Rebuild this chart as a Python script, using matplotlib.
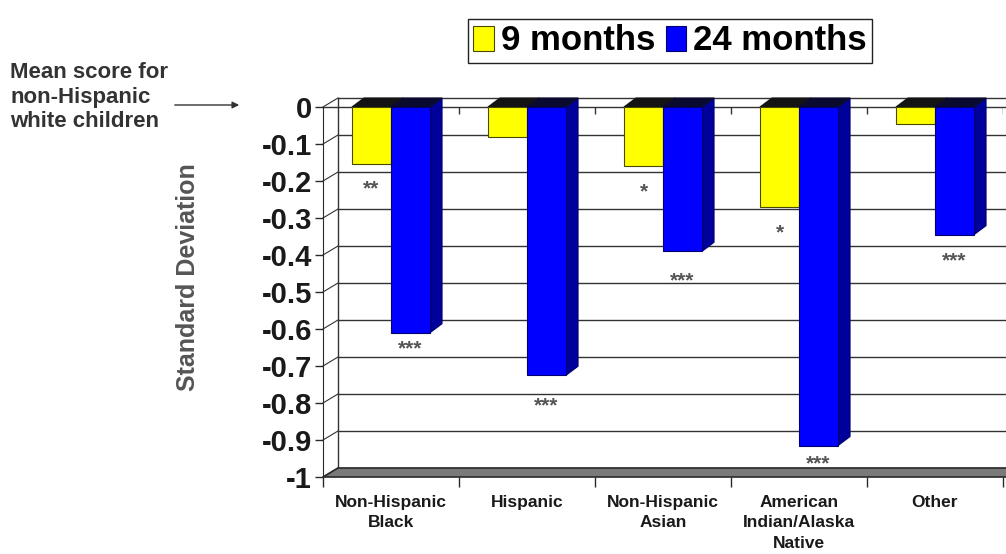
import numpy as np
import matplotlib
matplotlib.use('Agg')
import matplotlib.pyplot as plt
from matplotlib.patches import Polygon

plt.rcParams['font.family'] = ['Liberation Sans', 'DejaVu Sans']
plt.rcParams['font.weight'] = 'bold'

# standardized gap vs. non-Hispanic white children
groups = ['Non-Hispanic\nBlack', 'Hispanic', 'Non-Hispanic\nAsian',
          'American\nIndian/Alaska\nNative', 'Other']
sd_9mo = [-0.155, -0.08, -0.16, -0.27, -0.045]
sd_24mo = [-0.61, -0.725, -0.39, -0.915, -0.345]
sig_9mo = ['**', '', '*', '*', '']
sig_24mo = ['***', '***', '***', '***', '***']
yticks = [0, -0.1, -0.2, -0.3, -0.4, -0.5, -0.6, -0.7, -0.8, -0.9, -1]
ytick_labels = ['0', '-0.1', '-0.2', '-0.3', '-0.4', '-0.5',
                '-0.6', '-0.7', '-0.8', '-0.9', '-1']

W, H = 1006, 554
fig = plt.figure(figsize=(W / 100, H / 100), dpi=100)
# front plane of the plot: x 323..1003 px, y 107..477 px from top
ax = fig.add_axes([323 / W, (H - 477) / H, 680 / W, 370 / H])
ax.set_xlim(-0.5, 4.5)
ax.set_ylim(-1, 0)

# pixel -> data helpers for the fake 3d depth (back is up and to the right)
px = 1 / 136
py = 1 / 370
wall_dx, wall_dy = 15 * px, 9 * py
bar_dx, bar_dy = 12 * px, 9 * py

x = np.arange(len(groups))
w = 0.287
x_end = 4.5 + 0.2

# back wall gridlines + left wall
for v in yticks:
    ax.plot([-0.5 + wall_dx, x_end], [v + wall_dy, v + wall_dy],
            color='#333333', lw=1, clip_on=False, zorder=1)
    ax.plot([-0.5, -0.5 + wall_dx], [v, v + wall_dy],
            color='#333333', lw=0.8, clip_on=False, zorder=1)
ax.plot([-0.5 + wall_dx] * 2, [wall_dy, -1 + wall_dy],
        color='#333333', lw=1, clip_on=False, zorder=1)

# front zero line with category ticks
ax.plot([-0.5, x_end], [0, 0], color='#333333', lw=1, clip_on=False, zorder=2)
ax.vlines(np.arange(0.5, 4.6, 1), 0, -7 * py, color='#333333', lw=1, zorder=2)

# floor
floor = Polygon([(-0.5, -1), (x_end, -1), (x_end + wall_dx, -1 + wall_dy),
                 (-0.5 + wall_dx, -1 + wall_dy)], closed=True,
                facecolor='#7a7a7a', edgecolor='#2a2a2a', lw=1.2,
                clip_on=False, zorder=2.5)
ax.add_patch(floor)


def bars_3d(xs, vals, front, side, top, edge, label, z):
    bars = ax.bar(xs, vals, w, color=front, edgecolor=edge, lw=0.8,
                  label=label, zorder=z + 0.2)
    for r in bars:
        x0 = r.get_x()
        x1 = x0 + r.get_width()
        v = r.get_height()
        ax.add_patch(Polygon([(x1, 0), (x1, v), (x1 + bar_dx, v + bar_dy),
                              (x1 + bar_dx, bar_dy)], closed=True,
                             facecolor=side, edgecolor=edge, lw=0.8,
                             zorder=z, clip_on=False))
        ax.add_patch(Polygon([(x0, 0), (x1, 0), (x1 + bar_dx, bar_dy),
                              (x0 + bar_dx, bar_dy)], closed=True,
                             facecolor=top, edgecolor=top, lw=0.8,
                             zorder=z + 0.1, clip_on=False))
    return bars


b9 = bars_3d(x - w / 2, sd_9mo, '#ffff00', '#a0a000', '#141414', '#4a4a00',
             '9 months', 3)
b24 = bars_3d(x + w / 2, sd_24mo, '#0000ff', '#00009a', '#0a0a30', '#000070',
              '24 months', 4)

# significance stars under the bars (gap below each bar end)
gap_9mo = [0.067, 0.07, 0.07, 0.071, 0.07]
gap_24mo = [0.044, 0.083, 0.08, 0.05, 0.071]
for xi, v, s, g in zip(x - w / 2, sd_9mo, sig_9mo, gap_9mo):
    ax.text(xi, v - g, s, ha='center', va='center', fontsize=15,
            color='#555555', zorder=6)
for xi, v, s, g in zip(x + w / 2, sd_24mo, sig_24mo, gap_24mo):
    ax.text(xi, v - g, s, ha='center', va='center', fontsize=15,
            color='#555555', zorder=6)

# axes styling
for s in ['top', 'right', 'bottom']:
    ax.spines[s].set_visible(False)
ax.spines['left'].set_color('#2a2a2a')
ax.spines['left'].set_zorder(5)
ax.set_yticks(yticks)
ax.set_yticklabels(ytick_labels, fontsize=21, color='#1a1a1a')
ax.tick_params(axis='y', length=6, width=1, color='#2a2a2a', pad=2)

ax.set_xticks(np.arange(-0.5, 4.6, 1))
ax.set_xticklabels([])
ax.tick_params(axis='x', which='major', length=7, width=1, color='#2a2a2a')
ax.set_xticks(x, minor=True)
ax.set_xticklabels(groups, minor=True, fontsize=12.5, color='#1a1a1a',
                   linespacing=1.45)
ax.tick_params(axis='x', which='minor', length=0, pad=13)

ax.set_ylabel('Standard Deviation', fontsize=18, fontweight='bold',
              color='#555555')
ax.yaxis.set_label_coords(-0.181, 0.54)

fig.legend(handles=[b9, b24], loc='center', bbox_to_anchor=(670 / W, 1 - 41 / H),
           ncol=2, prop={'size': 25, 'weight': 'bold'}, frameon=True,
           fancybox=False, edgecolor='#222222', framealpha=1,
           handlelength=0.6, handleheight=0.7, handletextpad=0.2,
           columnspacing=0.3, borderpad=0.15, borderaxespad=0)

fig.text(10 / W, 1 - 97 / H, 'Mean score for\nnon-Hispanic\nwhite children',
         ha='left', va='center', fontsize=16, color='#333333', linespacing=1.2)
ax.annotate('', xy=(242 / W, 1 - 105 / H), xytext=(172 / W, 1 - 105 / H),
            xycoords='figure fraction', textcoords='figure fraction',
            arrowprops=dict(arrowstyle='-|>', color='#333333', lw=1,
                            mutation_scale=10))

fig.savefig('out.png', dpi=100)
